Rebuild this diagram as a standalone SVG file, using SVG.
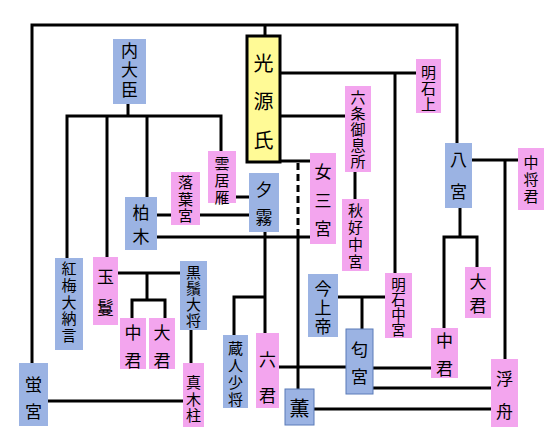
<svg xmlns="http://www.w3.org/2000/svg" width="558" height="446" viewBox="0 0 558 446">
<style>
.b{fill:#9bb3e3}
.p{fill:#f3a5ee}
.y{fill:#fffa96;stroke:#000;stroke-width:3}
.bs{stroke:#5a7bb8;stroke-width:1}
text{font-family:"Noto Sans CJK JP","Noto Sans CJK SC",sans-serif;fill:#000;text-anchor:middle;dominant-baseline:central;font-size:15px}
.s{font-size:14.5px}
.l{font-size:17px}
.xl{font-size:20px}
#connectors path{fill:none;stroke:#000;stroke-width:3}
#connectors .d{stroke-dasharray:7 4}
</style>
<rect width="558" height="446" fill="#fff"/>
<g id="connectors">
<path d="M32,363 V25 H457 V143"/>
<path d="M265,25 V36"/>
<path d="M281,73 H416"/>
<path d="M395,73 V273"/>
<path d="M281,116 H345"/>
<path d="M355,172 V199"/>
<path d="M128,104 V116"/>
<path d="M67,258 V116 H221 V151"/>
<path d="M107,116 V257"/>
<path d="M147,116 V197"/>
<path d="M236,197 H249"/>
<path d="M157,215 H171"/>
<path d="M200,215 H249"/>
<path d="M157,237 H310"/>
<path d="M281,161 H310"/>
<path class="d" d="M298,163 V237"/>
<path d="M298,237 V389"/>
<path d="M265,232 V333"/>
<path d="M265,297 H234 V335"/>
<path d="M279,367 H346"/>
<path d="M338,297 H385"/>
<path d="M362,297 V329"/>
<path d="M472,160 H518"/>
<path d="M505,160 V359"/>
<path d="M460,208 V237"/>
<path d="M444,328 V237 H477 V267"/>
<path d="M373,368 H431"/>
<path d="M373,388 H491"/>
<path d="M314,409 H491"/>
<path d="M118,273 H180"/>
<path d="M147,273 V300"/>
<path d="M132,318 V300 H165 V318"/>
<path d="M191,330 V363"/>
<path d="M48,401 H183"/>
</g>
<g id="genji"><rect class="y" x="247" y="36" width="33" height="126"/><text class="xl"><tspan x="263.5" y="62">光</tspan><tspan x="263.5" y="100">源</tspan><tspan x="263.5" y="139">氏</tspan></text></g>
<g id="naidaijin"><rect class="b" x="113" y="39" width="33" height="65"/><text class="l"><tspan x="129.5" y="49">内</tspan><tspan x="129.5" y="68">大</tspan><tspan x="129.5" y="88">臣</tspan></text></g>
<g id="akashinoue"><rect class="p" x="416" y="59" width="25" height="54"/><text><tspan x="428.5" y="71">明</tspan><tspan x="428.5" y="87">石</tspan><tspan x="428.5" y="103">上</tspan></text></g>
<g id="rokujo"><rect class="p" x="345" y="86" width="26" height="86"/><text><tspan x="358" y="96">六</tspan><tspan x="358" y="112">条</tspan><tspan x="358" y="128">御</tspan><tspan x="358" y="144">息</tspan><tspan x="358" y="160">所</tspan></text></g>
<g id="akikonomu"><rect class="p" x="342" y="199" width="27" height="72"/><text><tspan x="355.5" y="209">秋</tspan><tspan x="355.5" y="226">好</tspan><tspan x="355.5" y="243">中</tspan><tspan x="355.5" y="260">宮</tspan></text></g>
<g id="kumoinokari"><rect class="p" x="208" y="151" width="28" height="52"/><text><tspan x="222" y="162">雲</tspan><tspan x="222" y="179">居</tspan><tspan x="222" y="196">雁</tspan></text></g>
<g id="ochiba"><rect class="p" x="171" y="172" width="29" height="53"/><text><tspan x="185.5" y="181">落</tspan><tspan x="185.5" y="198">葉</tspan><tspan x="185.5" y="214">宮</tspan></text></g>
<g id="yugiri"><rect class="b" x="249" y="173" width="30" height="59"/><text class="l"><tspan x="264" y="188">夕</tspan><tspan x="264" y="216">霧</tspan></text></g>
<g id="kashiwagi"><rect class="b" x="125" y="197" width="32" height="53"/><text class="l"><tspan x="141" y="211">柏</tspan><tspan x="141" y="235">木</tspan></text></g>
<g id="onnasannomiya"><rect class="p" x="310" y="153" width="26" height="91"/><text class="l"><tspan x="323" y="170">女</tspan><tspan x="323" y="199">三</tspan><tspan x="323" y="227">宮</tspan></text></g>
<g id="hachinomiya"><rect class="b" x="445" y="143" width="27" height="65"/><text class="l"><tspan x="458.5" y="158">八</tspan><tspan x="458.5" y="190">宮</tspan></text></g>
<g id="chujonokimi"><rect class="p" x="518" y="148" width="26" height="62"/><text><tspan x="531" y="161">中</tspan><tspan x="531" y="178">将</tspan><tspan x="531" y="195">君</tspan></text></g>
<g id="oigimi-r"><rect class="p" x="465" y="267" width="26" height="51"/><text class="l"><tspan x="478" y="280">大</tspan><tspan x="478" y="304">君</tspan></text></g>
<g id="akashichugu"><rect class="p" x="385" y="273" width="27" height="65"/><text class="s"><tspan x="398.5" y="283">明</tspan><tspan x="398.5" y="298">石</tspan><tspan x="398.5" y="313">中</tspan><tspan x="398.5" y="328">宮</tspan></text></g>
<g id="kinjo"><rect class="b" x="308" y="274" width="30" height="63"/><text class="l"><tspan x="323" y="287">今</tspan><tspan x="323" y="306">上</tspan><tspan x="323" y="325">帝</tspan></text></g>
<g id="niou"><rect class="b bs" x="346" y="329" width="27" height="65"/><text class="l"><tspan x="359.5" y="348">匂</tspan><tspan x="359.5" y="375">宮</tspan></text></g>
<g id="nakanokimi-r"><rect class="p" x="431" y="328" width="27" height="50"/><text class="l"><tspan x="444.5" y="339">中</tspan><tspan x="444.5" y="367">君</tspan></text></g>
<g id="ukifune"><rect class="p" x="491" y="359" width="27" height="68"/><text class="l"><tspan x="504.5" y="377">浮</tspan><tspan x="504.5" y="410">舟</tspan></text></g>
<g id="kaoru"><rect class="b bs" x="285" y="389" width="29" height="36"/><text class="xl" x="299.5" y="407">薫</text></g>
<g id="rokunokimi"><rect class="p" x="256" y="333" width="23" height="75"/><text class="l"><tspan x="267.5" y="358">六</tspan><tspan x="267.5" y="394">君</tspan></text></g>
<g id="kurodo"><rect class="b" x="223" y="335" width="25" height="73"/><text><tspan x="235.5" y="347">蔵</tspan><tspan x="235.5" y="364">人</tspan><tspan x="235.5" y="381">少</tspan><tspan x="235.5" y="398">将</tspan></text></g>
<g id="makibashira"><rect class="p" x="183" y="363" width="21" height="64"/><text><tspan x="193.5" y="381">真</tspan><tspan x="193.5" y="398">木</tspan><tspan x="193.5" y="414">柱</tspan></text></g>
<g id="hotaru"><rect class="b" x="19" y="363" width="29" height="63"/><text class="l"><tspan x="33.5" y="383">蛍</tspan><tspan x="33.5" y="410">宮</tspan></text></g>
<g id="nakanokimi-l"><rect class="p" x="120" y="318" width="26" height="51"/><text class="l"><tspan x="133" y="331">中</tspan><tspan x="133" y="359">君</tspan></text></g>
<g id="oigimi-l"><rect class="p" x="149" y="318" width="26" height="51"/><text class="l"><tspan x="162" y="331">大</tspan><tspan x="162" y="359">君</tspan></text></g>
<g id="higekuro"><rect class="b" x="180" y="261" width="27" height="69"/><text><tspan x="193.5" y="271">黒</tspan><tspan x="193.5" y="287">鬚</tspan><tspan x="193.5" y="303">大</tspan><tspan x="193.5" y="319">将</tspan></text></g>
<g id="kobai"><rect class="b" x="55" y="258" width="28" height="92"/><text><tspan x="69" y="267">紅</tspan><tspan x="69" y="284">梅</tspan><tspan x="69" y="301">大</tspan><tspan x="69" y="317">納</tspan><tspan x="69" y="334">言</tspan></text></g>
<g id="tamakazura"><rect class="p" x="93" y="257" width="25" height="68"/><text class="l"><tspan x="105.5" y="275">玉</tspan><tspan x="105.5" y="306">鬘</tspan></text></g>
</svg>
